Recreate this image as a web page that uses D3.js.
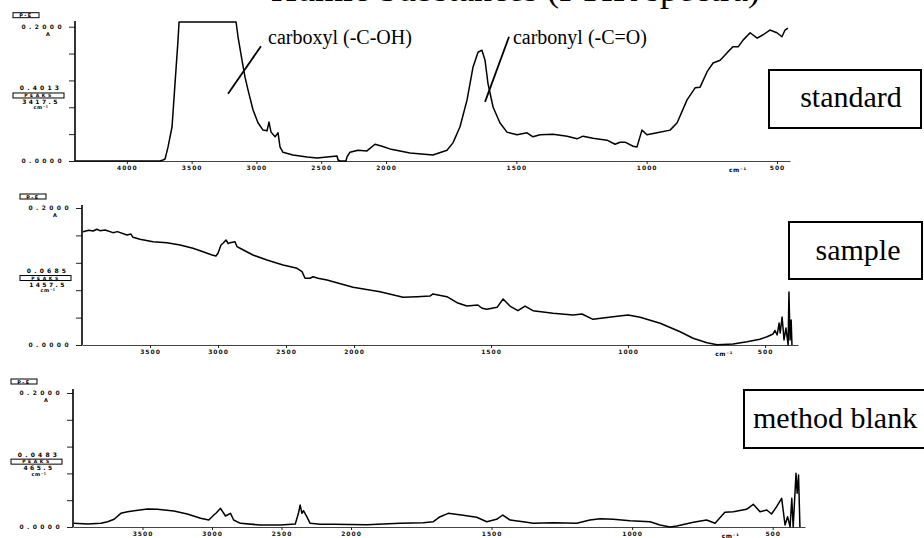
<!DOCTYPE html>
<html>
<head>
<meta charset="utf-8">
<script src="https://cdnjs.cloudflare.com/ajax/libs/d3/7.8.5/d3.min.js"></script>
<style>
  body { margin: 0; background: #fff; }
  svg { display: block; }
</style>
</head>
<body>
<script>
// values: [wavenumber cm-1, absorbance]
var xTicks = [4000, 3500, 3000, 2500, 2000, 1500, 1000, 500]
var yTicks = [0, 0.04, 0.08, 0.12, 0.16, 0.2]
var panelNames = ['standard', 'sample', 'method blank']
var peakAbs = ['0.4013', '0.0685', '0.0483']
var peakWn = ['3417.5', '1457.5', '465.5']

var standardSpectrum = [
  [4400,0],[3744,0],[3721,0.0015],[3705,0.003],[3682,0.021],[3651,0.051],[3628,0.116],[3605,0.18],
  [3597,0.207],[3157,0.207],[3142,0.185],[3111,0.15],[3088,0.125],[3065,0.106],[3026,0.076],
  [2988,0.057],[2949,0.046],[2918,0.045],[2903,0.058],[2887,0.043],[2856,0.036],[2833,0.042],
  [2818,0.021],[2795,0.013],[2718,0.009],[2610,0.006],[2532,0.0045],[2378,0.0075],[2370,0.0015],
  [2355,0],[2309,0],[2301,0.006],[2278,0.013],[2216,0.016],[2147,0.015],[2085,0.025],[2031,0.022],
  [1985,0.018],[1908,0.012],[1820,0.009],[1766,0.016],[1743,0.027],[1716,0.051],[1689,0.091],
  [1666,0.14],[1647,0.162],[1632,0.165],[1620,0.15],[1609,0.116],[1589,0.08],[1563,0.057],
  [1536,0.043],[1497,0.039],[1459,0.042],[1436,0.036],[1409,0.039],[1359,0.04],[1305,0.037],
  [1267,0.033],[1244,0.037],[1206,0.034],[1152,0.031],[1121,0.025],[1102,0.028],[1083,0.028],
  [1052,0.022],[1037,0.021],[1018,0.046],[999,0.039],[960,0.042],[910,0.046],[883,0.057],
  [845,0.091],[814,0.109],[795,0.11],[768,0.133],[745,0.146],[718,0.15],[692,0.161],[669,0.17],
  [649,0.17],[630,0.18],[603,0.191],[576,0.183],[553,0.188],[527,0.195],[500,0.191],[481,0.185],
  [469,0.195],[458,0.198]
]

var sampleSpectrum = [
  [3993,0.1654],[3950,0.1675],[3919,0.1664],[3890,0.1690],[3868,0.1669],[3830,0.1680],[3772,0.164],
  [3740,0.1655],[3669,0.1606],[3640,0.1620],[3625,0.1572],[3574,0.1543],[3478,0.1508],[3375,0.1494],
  [3279,0.146],[3184,0.1412],[3110,0.1362],[3044,0.1314],[3015,0.1299],[3000,0.1339],[2978,0.146],
  [2963,0.1485],[2941,0.1533],[2925,0.1480],[2912,0.1494],[2875,0.1508],[2860,0.1435],[2838,0.1412],
  [2743,0.1314],[2640,0.1241],[2522,0.1168],[2419,0.112],[2382,0.1071],[2360,0.0974],[2324,0.0974],
  [2301,0.0997],[2265,0.0974],[2199,0.0949],[2007,0.0842],[1905,0.0778],[1821,0.0696],[1770,0.0705],
  [1723,0.0715],[1712,0.0745],[1661,0.0705],[1624,0.0618],[1588,0.0569],[1548,0.0584],[1533,0.0536],
  [1515,0.0521],[1478,0.055],[1456,0.0672],[1431,0.0569],[1402,0.0501],[1376,0.0569],[1347,0.0501],
  [1274,0.0463],[1201,0.0438],[1168,0.0453],[1128,0.0375],[1055,0.0413],[1000,0.0438],[956,0.0404],
  [883,0.0317],[810,0.0194],[763,0.0098],[712,0.0034],[675,0.0004],[617,0.0015],[566,0.0048],
  [519,0.0083],[493,0.0121],[471,0.0161],[464,0.0212],[456,0.0146],[449,0.0321],[445,0.0175],
  [438,0.0409],[431,0.0073],[424,0.0248],[416,0],[413,0.0774],[409,0.0073],[405,0.0365],[402,0]
]

var blankSpectrum = [
  [3995,0.0055],[3894,0.0045],[3799,0.0055],[3751,0.0079],[3704,0.0115],[3656,0.0204],[3608,0.0228],
  [3560,0.0243],[3464,0.0269],[3393,0.0264],[3274,0.0239],[3178,0.0194],[3082,0.013],[3023,0.0104],
  [2987,0.0179],[2968,0.0213],[2939,0.0279],[2903,0.0164],[2867,0.0204],[2844,0.0104],[2796,0.0055],
  [2652,0.003],[2509,0.003],[2401,0.0045],[2378,0.0204],[2366,0.0328],[2353,0.0204],[2342,0.0243],
  [2318,0.0154],[2294,0.0055],[2222,0.004],[2127,0.004],[1944,0.0034],[1826,0.0055],[1743,0.0064],
  [1707,0.0079],[1683,0.0154],[1654,0.0204],[1601,0.0175],[1553,0.0145],[1517,0.0079],[1482,0.0115],
  [1460,0.0179],[1434,0.0104],[1375,0.007],[1352,0.0055],[1280,0.0064],[1197,0.0055],[1150,0.0104],
  [1114,0.0124],[1067,0.0115],[1007,0.0094],[936,0.0079],[901,0.003],[865,0],[841,0.0015],
  [782,0.007],[735,0.0104],[705,0.0055],[670,0.0219],[640,0.0228],[593,0.0264],[569,0.0339],
  [545,0.0228],[521,0.0254],[504,0.0194],[486,0.0303],[468,0.0428],[456,0.003],[447,0.0154],
  [438,0.0004],[432,0.0428],[427,0],[417,0.0801],[413,0.0503],[408,0.0776],[403,0]
]

var spectra = [standardSpectrum, sampleSpectrum, blankSpectrum]

// layout of the three stacked panels
var panels = [
  { wn: [4400, 2000, 450], xr: [75, 386, 790], y0: 161, y1: 26.7, axisTop: 21,
    box: [769, 70, 152, 58], label: [851, 107, 'middle'] },
  { wn: [4000, 2000, 380], xr: [82, 354, 798], y0: 345, y1: 208, axisTop: 205,
    box: [789, 222, 133, 57], label: [858, 260, 'middle'] },
  { wn: [4000, 2000, 385], xr: [73, 351, 805], y0: 527, y1: 393, axisTop: 389,
    box: [744, 390, 190, 58], label: [753, 428, 'start'] }
]

var svg = d3.select(document.body).append('svg')
  .attr('width', 924)
  .attr('height', 538)
  .style('background', '#fff')

// title, cut off at the top of the scan
svg.append('text')
  .attr('x', 760).attr('y', 1)
  .attr('text-anchor', 'end')
  .style('font-family', '"Liberation Serif", serif')
  .style('font-size', '36px')
  .text('Humic Substances (FTIR spectra)')

var tiny = function(sel, size, ls) {
  return sel.style('font-family', '"DejaVu Sans", sans-serif')
    .style('font-weight', 'bold')
    .style('font-size', size + 'px')
    .style('letter-spacing', ls + 'px')
}

panels.forEach(function(p, i) {
  var x = d3.scaleLinear().domain(p.wn).range(p.xr)
  var y = d3.scaleLinear().domain([0, 0.2]).range([p.y0, p.y1])
  var g = svg.append('g')
  var ax = p.xr[0]

  // x axis
  var xa = g.append('g')
    .attr('transform', 'translate(0,' + p.y0 + ')')
    .call(d3.axisBottom(x)
      .tickValues(xTicks.filter(function(d) { return d < p.wn[0] - 100 }))
      .tickFormat(d3.format('d'))
      .tickSize(3).tickSizeOuter(0).tickPadding(2))
  xa.select('.domain').attr('stroke', '#444').attr('stroke-width', 1.2)
  xa.selectAll('.tick line').attr('stroke', '#222')
  tiny(xa.selectAll('.tick text'), 6, 1).attr('fill', '#111')

  tiny(g.append('text'), 6, 0.5)
    .attr('x', x(650)).attr('y', p.y0 + 11)
    .attr('text-anchor', 'middle')
    .text('cm⁻¹')

  // y axis
  var ya = g.append('g')
    .attr('transform', 'translate(' + ax + ',0)')
    .call(d3.axisLeft(y)
      .tickValues(yTicks)
      .tickSize(6).tickSizeOuter(0).tickPadding(4)
      .tickFormat(function(d) { return (d === 0 || d === 0.2) ? d.toFixed(4) : '' }))
  ya.select('.domain').remove()
  ya.selectAll('.tick line').attr('stroke', '#222')
  tiny(ya.selectAll('.tick text'), 6, 3.4).attr('fill', '#111')
  g.append('line')
    .attr('x1', ax).attr('x2', ax)
    .attr('y1', p.y0).attr('y2', p.axisTop)
    .attr('stroke', '#000').attr('stroke-width', 1.6)

  var cx = ax - 36
  tiny(g.append('text'), 5, 0)
    .attr('x', cx + 9).attr('y', y(0.2) + 9)
    .attr('text-anchor', 'middle').text('A')

  // P-E tag
  var pe = g.append('g').attr('transform', 'translate(' + (ax - 62) + ',' + (y(0.2) - 14) + ')')
  pe.append('rect').attr('width', 26).attr('height', 5)
    .attr('fill', 'none').attr('stroke', '#000').attr('stroke-width', 1)
  tiny(pe.append('text'), 5, 1.5).attr('x', 13).attr('y', 4.5)
    .attr('text-anchor', 'middle').text('P-E')

  // peak readout block
  var by = p.y1 + (p.y0 - p.y1) * 0.46
  tiny(g.append('text'), 6, 3.2)
    .attr('x', cx + 2).attr('y', by + 2)
    .attr('text-anchor', 'middle').text(peakAbs[i])
  g.append('rect')
    .attr('x', ax - 62).attr('y', by + 4.5)
    .attr('width', 51).attr('height', 5)
    .attr('fill', 'none').attr('stroke', '#000').attr('stroke-width', 1)
  tiny(g.append('text'), 4.5, 2.6)
    .attr('x', cx).attr('y', by + 8.8)
    .attr('text-anchor', 'middle').text('PEAKS')
  tiny(g.append('text'), 6, 2.4)
    .attr('x', cx + 2).attr('y', by + 15.5)
    .attr('text-anchor', 'middle').text(peakWn[i])
  tiny(g.append('text'), 5, 0.5)
    .attr('x', cx + 2).attr('y', by + 21)
    .attr('text-anchor', 'middle').text('cm⁻¹')

  // spectrum
  var line = d3.line()
    .x(function(d) { return x(d[0]) })
    .y(function(d) { return y(d[1]) })
  g.append('path')
    .datum(spectra[i])
    .attr('d', line)
    .attr('fill', 'none')
    .attr('stroke', '#000')
    .attr('stroke-width', 1.5)
    .attr('stroke-linejoin', 'round')

  // label box on the right
  g.append('rect')
    .attr('x', p.box[0]).attr('y', p.box[1])
    .attr('width', p.box[2]).attr('height', p.box[3])
    .attr('fill', '#fff').attr('stroke', '#000').attr('stroke-width', 2)
  g.append('text')
    .attr('x', p.label[0]).attr('y', p.label[1])
    .attr('text-anchor', p.label[2])
    .style('font-family', '"Liberation Serif", serif')
    .style('font-size', '30px')
    .text(panelNames[i])

  // functional group call-outs on the standard
  if (i === 0) {
    var notes = [
      { text: 'carboxyl (-C-OH)', at: [2910, 0.174], from: [2965, 0.171], to: [3219, 0.100] },
      { text: 'carbonyl (-C=O)', at: [1513, 0.174], from: [1528, 0.185], to: [1620, 0.088] }
    ]
    notes.forEach(function(n) {
      g.append('line')
        .attr('x1', x(n.from[0])).attr('y1', y(n.from[1]))
        .attr('x2', x(n.to[0])).attr('y2', y(n.to[1]))
        .attr('stroke', '#000').attr('stroke-width', 1.8)
      g.append('text')
        .attr('x', x(n.at[0])).attr('y', y(n.at[1]))
        .style('font-family', '"Liberation Serif", serif')
        .style('font-size', '20px')
        .text(n.text)
    })
  }
})
</script>
</body>
</html>
